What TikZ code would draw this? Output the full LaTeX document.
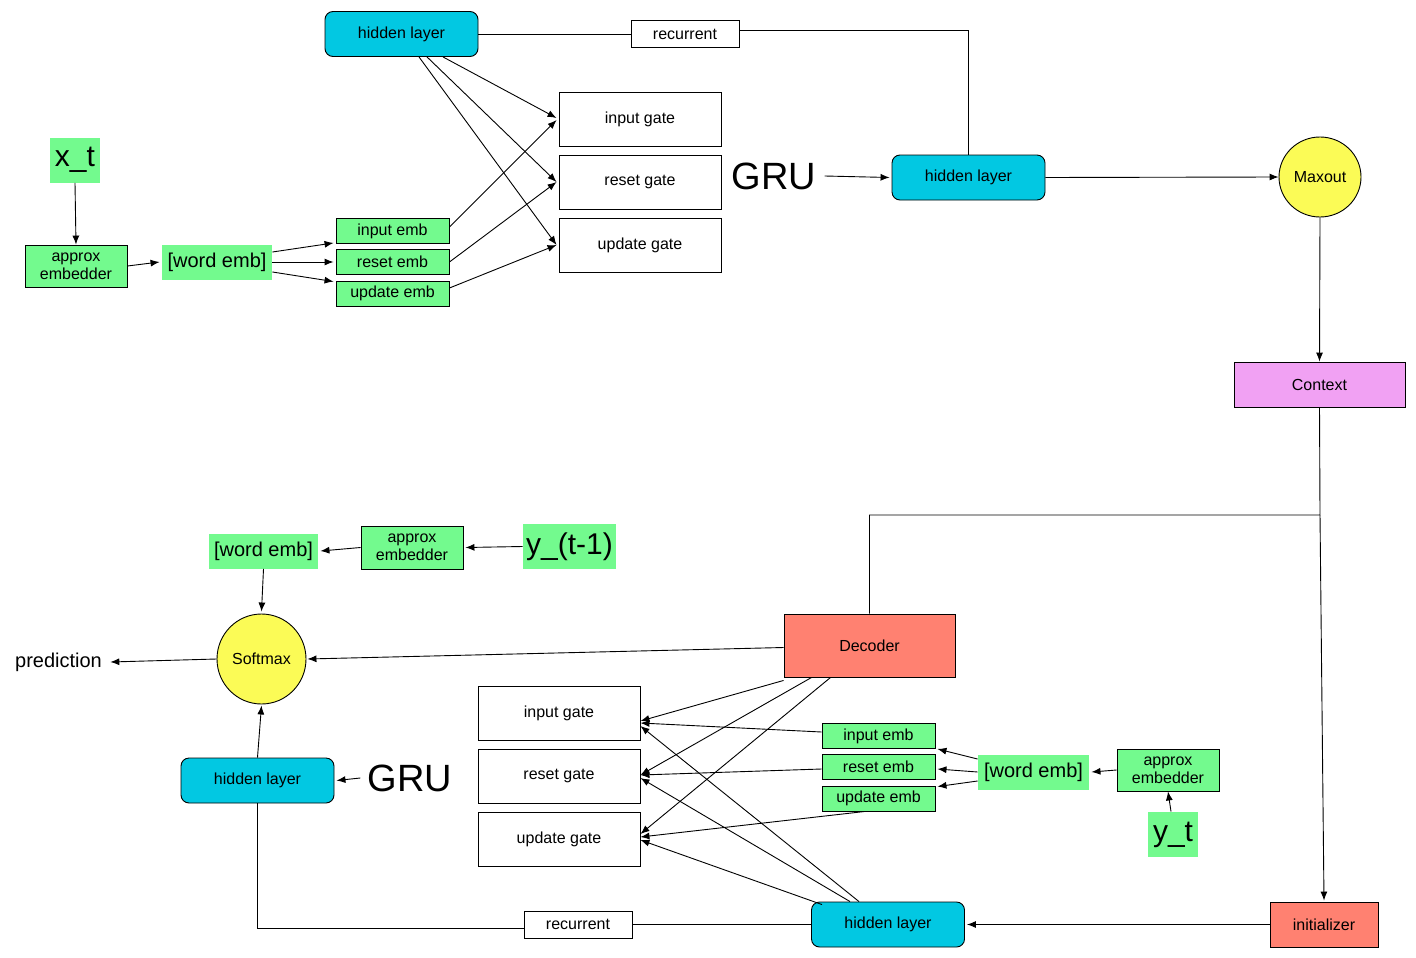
\documentclass[tikz,border=0pt]{standalone}
\usepackage{fontspec}
\setmainfont{Liberation Sans}
\usetikzlibrary{arrows.meta,shapes.geometric}
\definecolor{embgreen}{HTML}{73FA8E}
\definecolor{hidcyan}{HTML}{02C8E2}
\definecolor{softyellow}{HTML}{FBFB56}
\definecolor{salmon}{HTML}{FF8171}
\definecolor{ctxpink}{HTML}{F1A1F3}
\begin{document}
\begin{tikzpicture}[x=1pt,y=-1pt,line width=0.9pt,
  font=\fontsize{16}{18}\selectfont,
  arr/.style={-{Latex[length=9pt,width=7pt]}},
  plain/.style={draw,rectangle,inner sep=0pt,align=center},
  gatebox/.style={plain,minimum width=162,minimum height=54},
  embbox/.style={plain,fill=embgreen,minimum width=113,minimum height=25},
  apxbox/.style={plain,fill=embgreen,minimum width=102,minimum height=42,font=\fontsize{16}{18}\selectfont},
  wordbox/.style={rectangle,fill=embgreen,inner sep=0pt,minimum width=110,minimum height=35,font=\fontsize{20}{22}\selectfont},
  varbox/.style={rectangle,fill=embgreen,inner sep=0pt,minimum height=45,font=\fontsize{30}{32}\selectfont},
  hidbox/.style={draw,rectangle,rounded corners=8pt,fill=hidcyan,inner sep=0pt,minimum width=153,minimum height=45},
  recbox/.style={plain,minimum width=108,minimum height=27},
  circ/.style={draw,ellipse,fill=softyellow,inner sep=0pt,minimum width=82,minimum height=80},
  bigtext/.style={inner sep=0pt,font=\fontsize{38}{40}\selectfont},
  salbox/.style={plain,fill=salmon}]
\useasboundingbox (0,0) rectangle (1416,958);

% ---------- top (encoder) ----------
\node[hidbox] (hA) at (401.5,34) {hidden layer};
\node[recbox] (rcA) at (685,34) {recurrent};
\node[gatebox] (igA) at (640,119) {input gate};
\node[gatebox] (rgA) at (640,182) {reset gate};
\node[gatebox] (ugA) at (640,245) {update gate};
\node[bigtext] (gruA) at (774,176) {GRU};
\node[hidbox] (hB) at (968.5,177.5) {hidden layer};
\node[circ] (mx) at (1320,177) {Maxout};
\node[plain,fill=ctxpink,minimum width=171,minimum height=45] (cx) at (1319.5,384.5) {Context};
\node[varbox,minimum width=50] (xt) at (75,160) {x\_t};
\node[apxbox] (aeA) at (76,266) {approx\\embedder};
\node[wordbox] (weA) at (217,262) {[word emb]};
\node[embbox] (ieA) at (392.5,231) {input emb};
\node[embbox] (reA) at (392.5,262) {reset emb};
\node[embbox] (ueA) at (392.5,293.5) {update emb};

\draw[arr] (xt.south) -- (aeA.north);
\draw[arr] (aeA.east) -- ([xshift=-2pt]weA.west);
\draw[arr] ([yshift=10pt]weA.east) -- ([yshift=1pt,xshift=-2pt]ieA.south west);
\draw[arr] (weA.east) -- ([xshift=-2pt]reA.west);
\draw[arr] ([yshift=-10pt]weA.east) -- ([yshift=-1pt,xshift=-2pt]ueA.north west);
\draw[arr] ([yshift=4pt]ieA.east) -- ([yshift=-1pt,xshift=-2pt]igA.west);
\draw[arr] (reA.east) -- ([xshift=-2pt]rgA.west);
\draw[arr] ([yshift=5.5pt]ueA.east) -- ([xshift=-2pt]ugA.west);
\draw[arr] ([xshift=41.5pt]hA.south) -- ([yshift=1pt,xshift=-2pt]igA.west);
\draw[arr] ([xshift=25.5pt]hA.south) -- ([xshift=-2pt]rgA.west);
\draw[arr] ([xshift=17.5pt]hA.south) -- ([xshift=-2pt]ugA.west);
\draw (hA.east) -- (rcA.west);
\draw ([yshift=4pt]rcA.east) -| (hB.north);
\draw[arr] ([xshift=8pt]gruA.east) -- ([xshift=-2pt]hB.west);
\draw[arr] (hB.east) -- (mx.west);
\draw[arr] (mx.south) -- (cx.north);

% ---------- bottom (decoder) ----------
\node[salbox,minimum width=171,minimum height=63] (dec) at (869.5,645.5) {Decoder};
\node[salbox,minimum width=108,minimum height=45] (ini) at (1324,924.5) {initializer};
\node[hidbox] (hD) at (888,924.5) {hidden layer};
\node[recbox] (rcB) at (578,924.5) {recurrent};
\node[hidbox] (hC) at (257.5,780.5) {hidden layer};
\node[bigtext] (gruB) at (410,778) {GRU};
\node[circ,minimum width=89,minimum height=90] (sm) at (261.5,659) {Softmax};
\node[wordbox,minimum width=109] (weB) at (263.5,551) {[word emb]};
\node[apxbox,minimum height=43] (aeB) at (412,547.5) {approx\\embedder};
\node[varbox,minimum width=93] (ytm) at (569.5,546.5) {y\_(t-1)};
\node[inner sep=0pt,font=\fontsize{20}{22}\selectfont] (pred) at (58.5,662) {prediction};
\node[gatebox] (igB) at (559,713) {input gate};
\node[gatebox] (rgB) at (559,776) {reset gate};
\node[gatebox] (ugB) at (559,839) {update gate};
\node[embbox] (ieB) at (878.5,736) {input emb};
\node[embbox] (reB) at (878.5,767) {reset emb};
\node[embbox] (ueB) at (878.5,798.5) {update emb};
\node[wordbox,minimum width=111] (weC) at (1033.5,772) {[word emb]};
\node[apxbox] (aeC) at (1168,770) {approx\\embedder};
\node[varbox,minimum width=50] (yt) at (1173,834.5) {y\_t};

\coordinate (split) at (1320,515);
\draw (cx.south) -- (split) -- (split -| dec.north) -- (dec.north);
\draw[arr] (split) -- ([yshift=1pt]ini.north);
\draw[arr] (ini.west) -- ([xshift=2pt]hD.east);
\draw (hD.west) -- (rcB.east);
\draw ([yshift=-4pt]rcB.west) -| (hC.south);
\draw[arr] ([xshift=-7pt]gruB.west) -- ([xshift=2pt]hC.east);
\draw[arr] (hC.north) -- ([yshift=-1pt]sm.south);
\draw[arr] (weB.south) -- ([yshift=2pt]sm.north);
\draw[arr] (aeB.west) -- ([xshift=2pt]weB.east);
\draw[arr] (ytm.west) -- ([xshift=2pt]aeB.east);
\draw[arr] ([yshift=-2pt]dec.west) -- ([xshift=1pt]sm.east);
\draw[arr] (sm.west) -- ([xshift=8pt]pred.east);

\draw[arr] ([yshift=-3pt]dec.south west) -- ([yshift=-8pt]igB.east);
\draw[arr] ([xshift=28pt]dec.south west) -- ([yshift=1pt]rgB.east);
\draw[arr] ([xshift=47pt]dec.south west) -- ([yshift=5pt]ugB.east);
\draw[arr] ([yshift=4pt]ieB.west) -- ([yshift=-10pt]igB.east);
\draw[arr] ([yshift=-2pt]reB.west) -- ([yshift=1pt]rgB.east);
\draw[arr] ([xshift=-13.5pt]ueB.south) -- ([yshift=2pt]ugB.east);
\draw[arr] ([xshift=-29pt]hD.north) -- ([yshift=-13pt]igB.east);
\draw[arr] ([xshift=-38pt]hD.north) -- ([yshift=-2pt]rgB.east);
\draw[arr] ([xshift=-66pt,yshift=-3pt]hD.north) -- ([yshift=-1pt]ugB.east);

\draw[arr] ([yshift=13pt]weC.west) -- ([xshift=2pt]ieB.south east);
\draw[arr] (weC.west) -- ([xshift=2pt,yshift=-2pt]reB.east);
\draw[arr] ([yshift=-9pt]weC.west) -- ([xshift=2pt,yshift=-1pt]ueB.north east);
\draw[arr] (aeC.west) -- ([xshift=2pt]weC.east);
\draw[arr] ([xshift=-2pt]yt.north) -- (aeC.south);
\end{tikzpicture}
\end{document}
